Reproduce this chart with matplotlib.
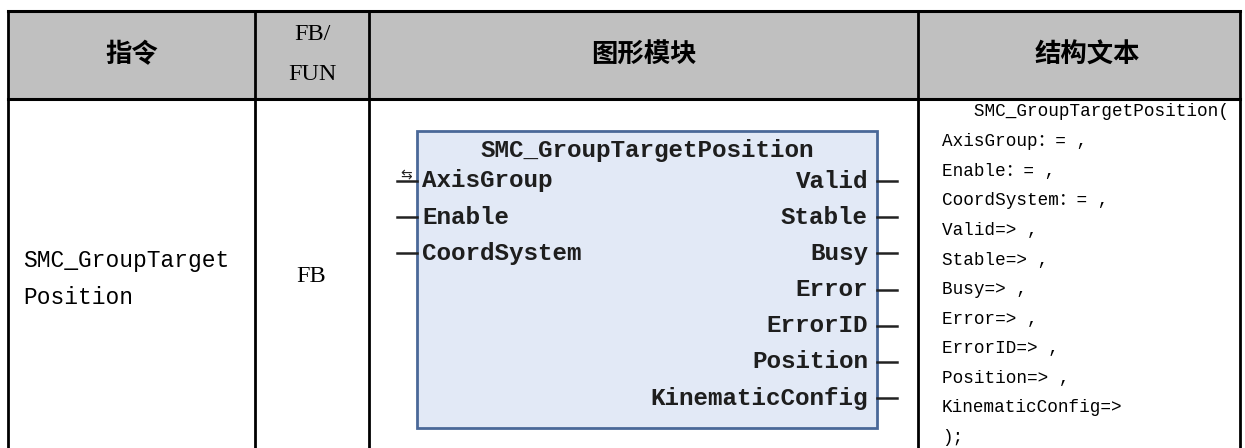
import matplotlib
matplotlib.use("Agg")
import matplotlib.pyplot as plt
from matplotlib.patches import Rectangle

# table content
headers = ["指令", "FB/\nFUN", "图形模块", "结构文本"]
instr_lines = ["SMC_GroupTarget", "Position"]
fb_type = "FB"
block_title = "SMC_GroupTargetPosition"
inputs = ["AxisGroup", "Enable", "CoordSystem"]
outputs = ["Valid", "Stable", "Busy", "Error", "ErrorID", "Position", "KinematicConfig"]
code_lines = [
    "   SMC_GroupTargetPosition(",
    "AxisGroup：= ,",
    "Enable：= ,",
    "CoordSystem：= ,",
    "Valid=> ,",
    "Stable=> ,",
    "Busy=> ,",
    "Error=> ,",
    "ErrorID=> ,",
    "Position=> ,",
    "KinematicConfig=>",
    ");",
]

W, H = 1245, 448
fig = plt.figure(figsize=(W / 100, H / 100), dpi=100)
ax = fig.add_axes([0, 0, 1, 1])
ax.set_xlim(0, W)
ax.set_ylim(H, 0)
ax.axis("off")

col_x = [8, 255, 369, 918, 1240]
top, head_bot, bot = 11, 99, 449

# header band
ax.add_patch(Rectangle((col_x[0], top), col_x[-1] - col_x[0], head_bot - top,
                       facecolor="#c0c0c0", edgecolor="none"))
ax.plot([col_x[0], col_x[-1]], [top, top], color="black", lw=2.2)
ax.plot([col_x[0], col_x[-1]], [head_bot, head_bot], color="black", lw=2.2)
for x in col_x:
    ax.plot([x, x], [top, bot], color="black", lw=2)

cjk = ["Noto Sans CJK SC", "DejaVu Sans"]
mono = ["Liberation Mono", "Noto Sans CJK SC"]

centers = [(col_x[i] + col_x[i + 1]) / 2 for i in range(4)]
ax.text(centers[0], 55, headers[0], ha="center", va="center", fontsize=19,
        family=cjk, fontweight="bold")
fb_top, fb_bot = headers[1].split("\n")
ax.text(centers[1], 35, fb_top, ha="center", va="center", fontsize=17.5,
        family="Liberation Serif")
ax.text(centers[1], 74, fb_bot, ha="center", va="center", fontsize=17.5,
        family="Liberation Serif")
ax.text(centers[2], 55, headers[2], ha="center", va="center", fontsize=19,
        family=cjk, fontweight="bold")
ax.text(centers[3] + 8, 55, headers[3], ha="center", va="center", fontsize=19,
        family=cjk, fontweight="bold")

# first column
for i, s in enumerate(instr_lines):
    ax.text(23, 260 + i * 38, s, ha="left", va="center", fontsize=16.5, family=mono)
ax.text(311, 277, fb_type, ha="center", va="center", fontsize=17.5,
        family="Liberation Serif")

# function block
bx0, bx1, by0, by1 = 417, 877, 131, 428
ax.add_patch(Rectangle((bx0, by0), bx1 - bx0, by1 - by0, facecolor="#e2e9f6",
                       edgecolor="#4a6898", lw=2))
ax.text((bx0 + bx1) / 2, 150, block_title, ha="center", va="center",
        fontsize=17.5, family="Liberation Mono", fontweight="bold", color="#1e1e1e")
pin_y0, pin_dy = 181, 36.2
for i, name in enumerate(inputs):
    y = pin_y0 + i * pin_dy
    ax.plot([397, bx0], [y, y], color="#222222", lw=1.8)
    ax.text(bx0 + 5, y, name, ha="left", va="center", fontsize=17.5,
            family="Liberation Mono", fontweight="bold", color="#1e1e1e")
ax.text(406, pin_y0 - 6, "⇆", ha="center", va="center", fontsize=10,
        family="DejaVu Sans", color="#222222")
for i, name in enumerate(outputs):
    y = pin_y0 + i * pin_dy
    ax.plot([bx1, 897], [y, y], color="#222222", lw=1.8)
    ax.text(bx1 - 9, y, name, ha="right", va="center", fontsize=17.5,
            family="Liberation Mono", fontweight="bold", color="#1e1e1e")

# structured text
for i, s in enumerate(code_lines):
    ax.text(942, 112 + i * 29.6, s, ha="left", va="center", fontsize=12.7,
            family=mono)

fig.savefig("out.png", dpi=100, facecolor="white")
